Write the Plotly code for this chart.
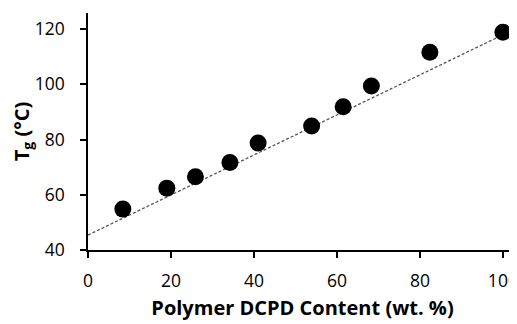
import plotly.graph_objects as go

dcpd_content = [8.4, 19.0, 25.9, 34.2, 41.0, 53.9, 61.5, 68.3, 82.4, 100.0]
tg_values = [54.8, 62.4, 66.5, 71.7, 78.7, 84.9, 91.9, 99.4, 111.6, 118.8]
trend_x = [0, 100]
trend_y = [45.4, 117.9]
x_ticks = [0, 20, 40, 60, 80, 100]
y_ticks = [40, 60, 80, 100, 120]

fig = go.Figure()
fig.add_trace(go.Scatter(x=trend_x, y=trend_y, mode="lines",
                         line=dict(color="#555555", width=1.3, dash="3px,2px"),
                         showlegend=False, hoverinfo="skip"))
fig.add_trace(go.Scatter(x=dcpd_content, y=tg_values, mode="markers",
                         marker=dict(color="black", size=17),
                         showlegend=False))

font_family = "Open Sans, Liberation Sans, sans-serif"
# page body has an 8px default margin, so the figure is sized to fit the window
fig.update_layout(
    width=509, height=316,
    margin=dict(l=80, r=0, t=5, b=74),
    plot_bgcolor="white", paper_bgcolor="white",
    font=dict(family=font_family, color="black", size=17.5),
    xaxis=dict(range=[0, 103.4], tickvals=x_ticks, showgrid=False, zeroline=False,
               automargin=False, ticklabeloverflow="allow", ticklabelstandoff=8,
               showline=True, linecolor="black", linewidth=1.5,
               ticks="outside", ticklen=6, tickwidth=1.5, tickcolor="black",
               tickfont=dict(size=17.5, family=font_family),
               title=dict(text="<b>Polymer DCPD Content (wt. %)</b>",
                          font=dict(size=20, family=font_family), standoff=10)),
    yaxis=dict(range=[40, 125.8], tickvals=y_ticks, showgrid=False, zeroline=False,
               automargin=False, ticklabelstandoff=12,
               showline=True, linecolor="black", linewidth=1.5,
               ticks="outside", ticklen=6, tickwidth=1.5, tickcolor="black",
               tickfont=dict(size=17.5, family=font_family),
               title=dict(text="<b>T<sub>g</sub> (°C)</b>",
                          font=dict(size=20, family=font_family), standoff=6)),
)
fig.write_html("out.html")
